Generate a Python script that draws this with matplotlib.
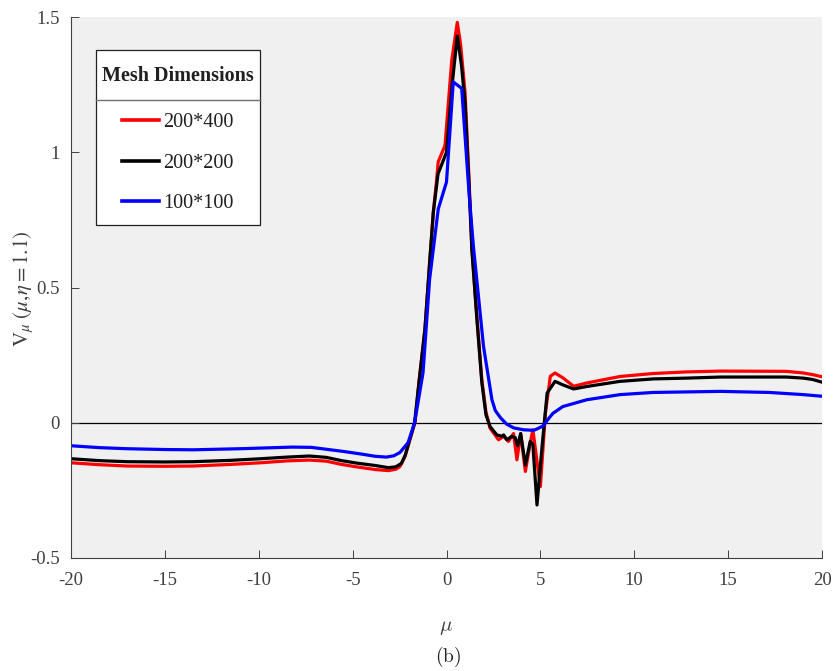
import numpy as np
import matplotlib
matplotlib.use("Agg")
import matplotlib.pyplot as plt
from matplotlib.lines import Line2D
from matplotlib.patches import Rectangle
from matplotlib.ticker import FormatStrFormatter

plt.rcParams['font.family'] = ['Liberation Serif', 'DejaVu Serif']
plt.rcParams['axes.unicode_minus'] = False

# V_mu(mu, eta=1.1) for three mesh sizes
mu_400 = [-20, -18.5, -17, -15, -13.5, -11.5, -9.9, -8.5, -7.3, -6.4, -5.6, -4.7,
          -3.8, -3.1, -2.7, -2.48, -2.21, -1.95, -1.68, -1.45, -1.15, -0.9, -0.7,
          -0.55, -0.44, -0.08, 0.28, 0.575, 0.75, 0.99, 1.2, 1.35, 1.6, 1.88, 2.1,
          2.32, 2.77, 3.04, 3.3, 3.57, 3.75, 3.95, 4.2, 4.46, 4.6, 5.0, 5.27, 5.53,
          5.78, 6.2, 6.77, 7.47, 9.24, 11, 12.8, 14.6, 18.1, 19, 19.5, 20]
v_400 = [-0.148, -0.155, -0.16, -0.161, -0.16, -0.154, -0.148, -0.141, -0.138,
         -0.142, -0.154, -0.164, -0.173, -0.177, -0.172, -0.162, -0.125, -0.063,
         0.0, 0.16, 0.345, 0.59, 0.78, 0.88, 0.965, 1.025, 1.34, 1.48, 1.40, 1.22,
         0.9, 0.65, 0.41, 0.16, 0.04, -0.02, -0.063, -0.05, -0.069, -0.04, -0.137,
         -0.04, -0.18, -0.075, -0.026, -0.236, 0.037, 0.172, 0.184, 0.166, 0.135,
         0.147, 0.171, 0.182, 0.188, 0.191, 0.19, 0.184, 0.178, 0.17]

mu_200 = [-20, -18.5, -17, -15, -13.5, -11.5, -9.9, -8.5, -7.3, -6.4, -5.6, -4.7,
          -3.8, -3.1, -2.7, -2.4, -2.2, -1.95, -1.7, -1.45, -1.15, -0.9, -0.7,
          -0.45, 0.0, 0.3, 0.575, 0.8, 0.99, 1.2, 1.35, 1.6, 1.88, 2.1, 2.32, 2.68,
          2.95, 3.04, 3.22, 3.48, 3.66, 3.79, 3.95, 4.2, 4.46, 4.6, 4.82, 5.09,
          5.36, 5.78, 6.2, 6.77, 7.47, 9.24, 11, 12.8, 14.6, 18.1, 19, 19.5, 20]
v_200 = [-0.133, -0.14, -0.144, -0.145, -0.144, -0.139, -0.133, -0.127, -0.123,
         -0.128, -0.14, -0.15, -0.158, -0.166, -0.163, -0.15, -0.12, -0.06, 0.0,
         0.16, 0.345, 0.59, 0.78, 0.92, 1.0, 1.25, 1.43, 1.32, 1.18, 0.88, 0.64,
         0.40, 0.15, 0.03, -0.014, -0.045, -0.05, -0.045, -0.063, -0.05, -0.055,
         -0.085, -0.04, -0.156, -0.069, -0.08, -0.304, -0.088, 0.11, 0.153, 0.14,
         0.125, 0.134, 0.153, 0.162, 0.165, 0.169, 0.169, 0.165, 0.16, 0.15]

mu_100 = [-20, -18.5, -17, -15, -13.5, -11, -8.2, -7.2, -6.4, -5.5, -4.6, -3.8,
          -3.2, -2.8, -2.48, -2.05, -1.7, -1.25, -0.9, -0.44, 0.0, 0.36, 0.81, 1.2,
          1.43, 1.7, 1.97, 2.42, 2.6, 2.87, 3.2, 3.58, 4.1, 4.65, 4.85, 5.14, 5.4,
          5.67, 6.2, 7.47, 9.24, 11, 14.6, 17.2, 19, 20]
v_100 = [-0.085, -0.092, -0.096, -0.099, -0.1, -0.096, -0.09, -0.091, -0.098,
         -0.106, -0.115, -0.124, -0.127, -0.122, -0.11, -0.074, 0.0, 0.185, 0.53,
         0.79, 0.89, 1.26, 1.236, 0.85, 0.654, 0.469, 0.283, 0.085, 0.045, 0.019,
         -0.005, -0.019, -0.026, -0.028, -0.022, -0.012, 0.012, 0.035, 0.06, 0.085,
         0.104, 0.112, 0.116, 0.112, 0.104, 0.098]

labels = ['200*400', '200*200', '100*100']
colors = ['#ff0000', '#000000', '#0000ff']

grey = '#404040'
dark = '#202020'

fig = plt.figure(figsize=(8.36, 6.71), dpi=100)
ax = fig.add_axes([71 / 836, 113 / 671, 751 / 836, 541 / 671])
ax.set_facecolor('#f0f0f0')

ax.axhline(0, color='black', lw=0.9, zorder=1)
for x, y, c, lab in zip([mu_400, mu_200, mu_100], [v_400, v_200, v_100], colors, labels):
    ax.plot(x, y, color=c, lw=2.3, label=lab, zorder=2)

ax.set_xlim(-20, 20)
ax.set_ylim(-0.5, 1.5)
ax.set_xticks(np.arange(-20, 21, 5))
ax.set_yticks([-0.5, 0, 0.5, 1, 1.5])
ax.yaxis.set_major_formatter(FormatStrFormatter('%g'))
ax.tick_params(direction='in', length=6, width=0.7, colors=grey, labelsize=13.5,
               pad=10)
ax.tick_params(axis='y', pad=8)
for s in ['top', 'right']:
    ax.spines[s].set_visible(False)
for s in ['left', 'bottom']:
    ax.spines[s].set_color(grey)
    ax.spines[s].set_linewidth(0.8)

ax.set_ylabel(r'$\mathrm{V}_{\mu}\ (\mu{,}\eta{=}1.1)$', fontsize=15, color=grey,
              math_fontfamily='stix')
ax.yaxis.set_label_coords(-0.047, 0.497)
ax.set_xlabel(r'$\mu$', fontsize=15, color=grey, math_fontfamily='cm', labelpad=21)
fig.text(448 / 836, 1 - 657 / 671, r'$\mathrm{(b)}$', fontsize=14, color=dark,
         math_fontfamily='cm', ha='center', va='center')

# legend: frame drawn separately so the vertical padding can be larger
leg = ax.legend(loc='upper left', bbox_to_anchor=(25 / 751, 498 / 541),
                title='Mesh Dimensions', frameon=False, fontsize=14.5,
                title_fontproperties={'weight': 'bold', 'size': 14.5},
                handlelength=1.84, handletextpad=0.2, labelspacing=1.06,
                borderpad=0.3, borderaxespad=0)
leg.get_title().set_color(dark)
for t in leg.get_texts():
    t.set_color(dark)
for h in leg.legend_handles:
    h.set_linewidth(2.6)
leg._legend_box.sep = 19.5
leg.set_zorder(6)

fig.canvas.draw()
r = fig.canvas.get_renderer()
lb = leg.get_window_extent(r)
tb = leg.get_title().get_window_extent(r)
eb = leg.get_texts()[0].get_window_extent(r)
inv = fig.transFigure.inverted()
(bx0, by0), (bx1, by1) = inv.transform([(lb.x0, lb.y0 - 6), (lb.x1, lb.y1 + 10)])
fig.add_artist(Rectangle((bx0, by0), bx1 - bx0, by1 - by0, transform=fig.transFigure,
                         facecolor='white', edgecolor=dark, lw=0.9, zorder=5))
ysep = inv.transform([(0, 0.5 * (tb.y0 + eb.y1))])[0][1]
fig.add_artist(Line2D([bx0, bx1], [ysep, ysep], transform=fig.transFigure,
                      color='#707070', lw=1.0, zorder=5.5))
fig.add_artist(leg)

fig.savefig('out.png', dpi=100)
